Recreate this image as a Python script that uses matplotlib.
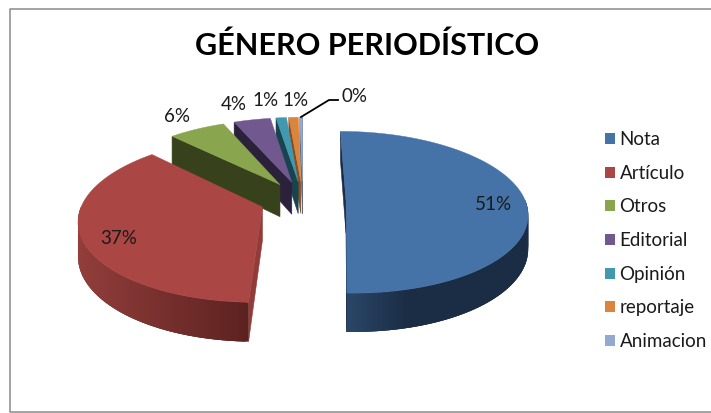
import numpy as np
import matplotlib
matplotlib.use("Agg")
import matplotlib.pyplot as plt
from matplotlib.patches import Patch, Polygon

plt.rcParams['font.family'] = ['Lato', 'DejaVu Sans']

categories = ['Nota', 'Artículo', 'Otros', 'Editorial', 'Opinión', 'reportaje', 'Animacion']
shares = [50.5, 37.2, 6.0, 3.9, 1.1, 1.0, 0.3]
labels = ['51%', '37%', '6%', '4%', '1%', '1%', '0%']
title = 'GÉNERO PERIODÍSTICO'

colors = ['#4572A7', '#AA4643', '#89A54E', '#71588F', '#4198AF', '#DB843D', '#93A9CF']
wall_light = ['#2B4769', '#923E3B', '#37421D', '#2C213A', '#17444F', '#8A4E1E', '#5A6A88']
wall_dark = ['#1A2D45', '#5C2220', '#37421D', '#2C213A', '#17444F', '#8A4E1E', '#5A6A88']

# projection of the tilted pie, in pixels
CX, CY = 303, 200
RX, RY = 179, 79
PERSP = 0.148
DEPTH = 33
EXPLODE = 0.24


def project(x, y, down=False):
    p = 1 / (1 + PERSP * y)
    sx = CX + RX * x * p
    sy = CY - RY * y * p
    if down:
        sy = sy + DEPTH * p
    return sx, sy


def mix(c1, c2, t):
    a = np.array(matplotlib.colors.to_rgb(c1))
    b = np.array(matplotlib.colors.to_rgb(c2))
    return tuple(a + (b - a) * t)


def signed_area(pts):
    x, y = np.array(pts).T
    return 0.5 * np.sum(x * np.roll(y, -1) - np.roll(x, -1) * y)


fig = plt.figure(figsize=(7.11, 4.13), dpi=100)
ax = fig.add_axes([0, 0, 1, 1])
ax.set_xlim(0, 711)
ax.set_ylim(413, 0)
ax.axis('off')

# chart frame has no visible right side
ax.plot([711, 9.5, 9.5, 711], [8.5, 8.5, 412, 412], color='#8A8A8A', lw=1.1, zorder=1)

fractions = np.array(shares) / np.sum(shares)
ends = np.cumsum(fractions) * 2 * np.pi
starts = ends - fractions * 2 * np.pi

# painter's order: thin back slices first, the red one last
order = [6, 5, 4, 3, 2, 0, 1]
z = 2
for i in order:
    mid = (starts[i] + ends[i]) / 2
    ox, oy = EXPLODE * np.sin(mid), EXPLODE * np.cos(mid)
    th = np.linspace(starts[i], ends[i], max(int(np.degrees(ends[i] - starts[i])) * 2, 4))
    rim_x = ox + np.sin(th)
    rim_y = oy + np.cos(th)
    apex_top = project(ox, oy)
    apex_bot = project(ox, oy, True)
    top_pts = list(zip(*project(rim_x, rim_y)))
    bot_pts = list(zip(*project(rim_x, rim_y, True)))

    # radial walls, only those facing the viewer
    first = [apex_top, top_pts[0], bot_pts[0], apex_bot]
    last = [apex_top, apex_bot, bot_pts[-1], top_pts[-1]]
    for wall in (first, last):
        if signed_area(wall) < 0:
            wall_color = mix(colors[i], '#000000', 0.15) if i == 1 else wall_dark[i]
            ax.add_patch(Polygon(wall, closed=True, fc=wall_color, ec=wall_color, lw=0.4, zorder=z))
            z += 1

    # outer wall, shaded left to right; quads overlap so no seams show
    vis = [k for k in range(len(th)) if np.cos(th[k]) <= 0.02]
    if vis:
        left = min(top_pts[k][0] for k in vis)
        right = max(top_pts[k][0] for k in vis)
        for k in vis[:-1]:
            t = (top_pts[k][0] - left) / max(right - left, 1)
            if i == 0:
                t = min(t * 3.0, 1)
            c = mix(wall_light[i], wall_dark[i], t)
            k2 = min(k + 3, vis[-1])
            quad = [top_pts[k], top_pts[k2], bot_pts[k2], bot_pts[k]]
            ax.add_patch(Polygon(quad, closed=True, fc=c, ec='none', zorder=z))
            z += 1

    face = [apex_top] + top_pts
    ax.add_patch(Polygon(face, closed=True, fc=colors[i], ec=colors[i], lw=0.3, zorder=z))
    z += 1

# data labels
label_xy = [(493, 205), (119, 238), (177, 116), (234, 104), (266, 101), (296, 101), (354, 96)]
for text, (lx, ly) in zip(labels, label_xy):
    ax.text(lx, ly, text, fontsize=13.5, color='#1A1A1A', ha='center', va='center', zorder=z)

# leader line for the smallest slice
ax.plot([301, 329, 338], [117, 100, 100], color='black', lw=1.3, zorder=z)

ax.text(367.5, 46, title, fontsize=22, fontweight='bold', color='black',
        ha='center', va='center', zorder=z)

handles = [Patch(fc=c, ec='none') for c in colors]
ax.legend(handles, categories, loc='upper left', bbox_to_anchor=(605 / 711, 1 - 131 / 413),
          frameon=False, fontsize=13.5, handlelength=0.53, handleheight=0.53,
          handletextpad=0.25, labelspacing=0.89, borderpad=0, borderaxespad=0,
          labelcolor='#1A1A1A')

fig.savefig('out.png', dpi=100)
